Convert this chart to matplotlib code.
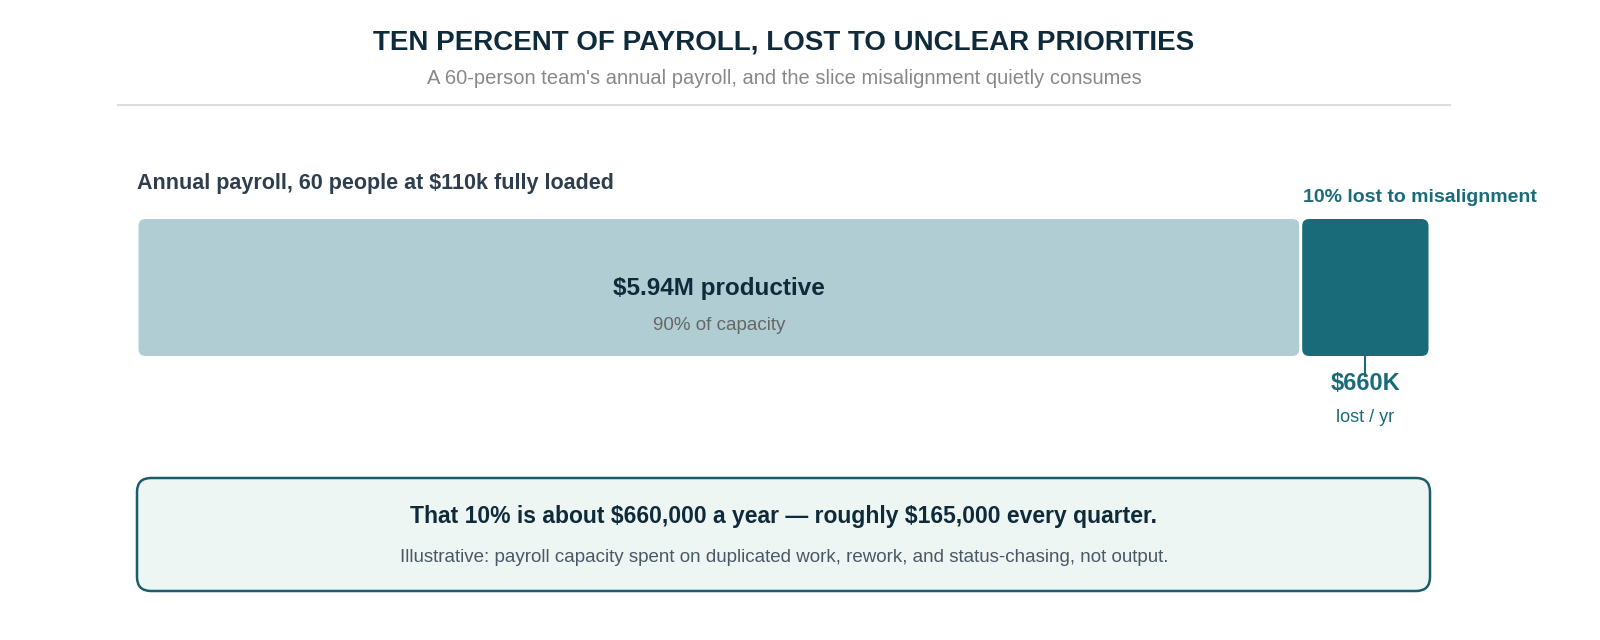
import matplotlib
matplotlib.use("Agg")
import matplotlib.pyplot as plt
from matplotlib.patches import FancyBboxPatch

plt.rcParams['font.family'] = ['Liberation Sans', 'DejaVu Sans']
plt.rcParams['text.parse_math'] = False

categories = ["productive", "lost to misalignment"]
values_m = [5.94, 0.66]   # $M
shares = [90, 10]

fig = plt.figure(figsize=(16, 6.4), dpi=100)
ax = fig.add_axes([0, 0, 1, 1])
ax.set_xlim(0, 1600); ax.set_ylim(640, 0); ax.axis('off')

dark = '#0f2a3a'; teal = '#1a6b7a'; light = '#b0cdd3'
ax.text(784, 42, "TEN PERCENT OF PAYROLL, LOST TO UNCLEAR PRIORITIES", ha='center', va='center',
        fontsize=20, fontweight='bold', color=dark)
ax.text(784, 79, "A 60-person team's annual payroll, and the slice misalignment quietly consumes",
        ha='center', va='center', fontsize=14.5, color='#888888')
ax.plot([118, 1450], [105, 105], color='#dddddd', lw=1.5)

ax.text(137, 184, "Annual payroll, 60 people at $110k fully loaded", ha='left', va='center',
        fontsize=15.5, fontweight='bold', color='#2f3e4e')

x0, x1 = 137, 1430
total = sum(values_m)
scale = (x1 - x0) / total
y0, y1 = 219, 356
left = x0
cols = [light, teal]
gap = 1.5
segs = []
for v, c in zip(values_m, cols):
    w = v * scale
    p = FancyBboxPatch((left + gap, y0), w - 2 * gap, y1 - y0,
                       boxstyle="round,pad=0,rounding_size=7", fc=c, ec='none')
    ax.add_patch(p)
    segs.append((left, left + w))
    left += w

cx = (segs[0][0] + segs[0][1]) / 2
ax.text(cx, 289, f"${values_m[0]:.2f}M productive", ha='center', va='center',
        fontsize=17.5, fontweight='bold', color=dark)
ax.text(cx, 326, f"{shares[0]}% of capacity", ha='center', va='center', fontsize=13.5, color='#666666')

dx = (segs[1][0] + segs[1][1]) / 2
ax.text(1420, 197, f"{shares[1]}% lost to misalignment", ha='center', va='center',
        fontsize=14, fontweight='bold', color=teal)
ax.plot([dx, dx], [356, 376], color=teal, lw=1.5)
ax.text(dx, 384, f"${values_m[1]*1000:.0f}K", ha='center', va='center', fontsize=17,
        fontweight='bold', color=teal)
ax.text(dx, 417, "lost / yr", ha='center', va='center', fontsize=13, color=teal)

box = FancyBboxPatch((137, 478), 1293, 113, boxstyle="round,pad=0,rounding_size=14",
                     fc='#eef6f3', ec='#1a5e6e', lw=1.8)
ax.add_patch(box)
lost = values_m[1] * 1e6
ax.text(784, 517, f"That {shares[1]}% is about ${lost:,.0f} a year — roughly ${lost/4:,.0f} every quarter.",
        ha='center', va='center', fontsize=16.5, fontweight='bold', color=dark)
ax.text(784, 557, "Illustrative: payroll capacity spent on duplicated work, rework, and status-chasing, not output.",
        ha='center', va='center', fontsize=13.5, color='#4a5866')

fig.savefig("out.png", dpi=100, facecolor='white')
